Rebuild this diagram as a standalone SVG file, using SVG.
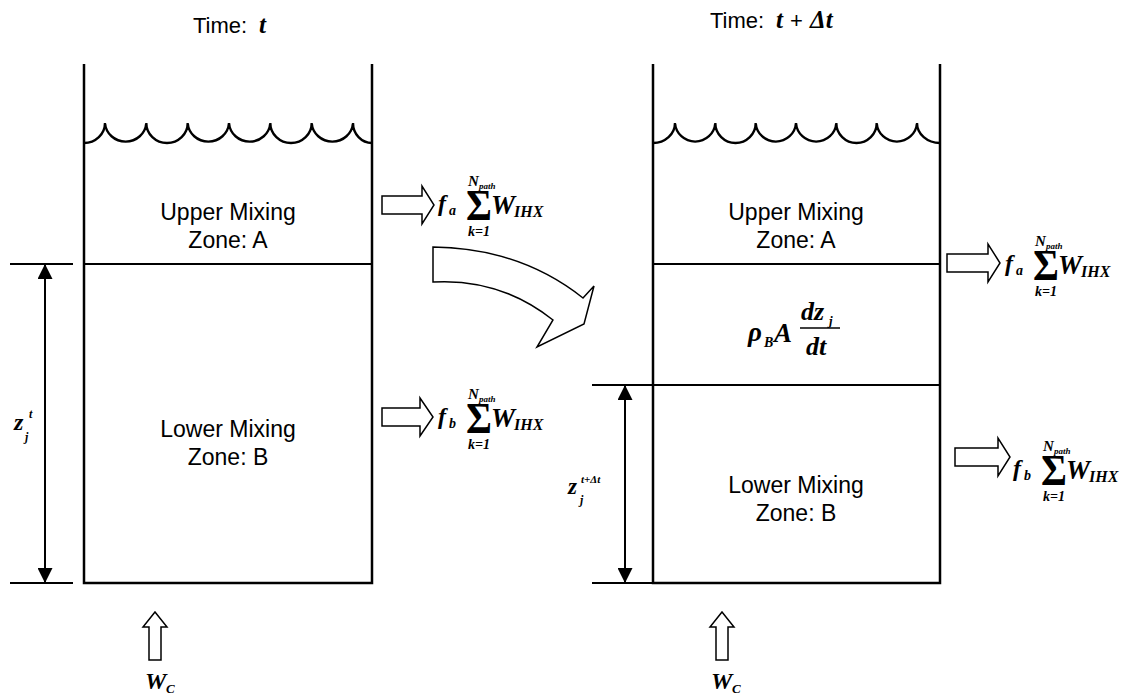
<svg xmlns="http://www.w3.org/2000/svg" width="1130" height="700" viewBox="0 0 1130 700">
<style>
.wall{fill:none;stroke:#000;stroke-width:2.5}
.ln{fill:none;stroke:#000;stroke-width:2}
.wave{fill:none;stroke:#000;stroke-width:2.4}
.blk{fill:#fff;stroke:#000;stroke-width:1.5;stroke-linejoin:miter}
.lbl{font-family:"Liberation Sans",Arial,sans-serif;font-size:23px;text-anchor:middle;fill:#000}
.ttl{font-family:"Liberation Sans",Arial,sans-serif;font-size:22px;fill:#000}
.m{font-family:"Liberation Serif","Times New Roman",serif;font-style:italic;font-weight:bold;fill:#000}
.sig{font-family:"Liberation Serif","Times New Roman",serif;font-weight:bold;font-size:44px;fill:#000}
</style>
<defs>
<marker id="ah" viewBox="0 0 10 10" refX="10" refY="5" markerUnits="userSpaceOnUse" markerWidth="15" markerHeight="15" orient="auto-start-reverse">
<path d="M0,0 L10,5 L0,10 Z" fill="#000"/>
</marker>
<g id="sumF">
<text class="sig" transform="translate(28,0) scale(0.9,1)">Σ</text>
<text class="m" x="30" y="-34" font-size="15">N</text>
<text class="m" x="41" y="-31" font-size="9">path</text>
<text class="m" x="41" y="16" font-size="14" text-anchor="middle">k=1</text>
<text class="m" x="53" y="-6" font-size="27">W</text>
<text class="m" x="76" y="-3" font-size="16">IHX</text>
</g>
</defs>

<!-- titles -->
<g id="title-left">
<text class="ttl" x="193" y="33">Time:</text>
<text class="m" x="259" y="33" font-size="25">t</text>
</g>
<g id="title-right">
<text class="ttl" x="710" y="28">Time:</text>
<text class="m" x="776" y="28" font-size="25">t</text>
<text class="ttl" x="790" y="28" font-size="24">+</text>
<text class="m" x="810" y="28" font-size="25" font-style="normal">Δ<tspan font-style="italic">t</tspan></text>
</g>

<!-- left tank -->
<g id="tank-left">
<path class="wall" d="M84,64 V583 H372 V64"/>
<path class="wave" d="M84,143 A21,20 0 0 0 105,123 A20.7,20 0 0 0 146.3,123 A20.7,20 0 0 0 187.7,123 A20.7,20 0 0 0 229,123 A20.7,20 0 0 0 270.3,123 A20.7,20 0 0 0 311.7,123 A20.7,20 0 0 0 353,123 A19,20 0 0 0 372,143"/>
</g>
<g id="zoneA-left">
<path class="ln" d="M84,264 H372"/>
<text class="lbl" x="228" y="220">Upper Mixing</text>
<text class="lbl" x="228" y="248">Zone: A</text>
</g>
<g id="zoneB-left">
<text class="lbl" x="228" y="437">Lower Mixing</text>
<text class="lbl" x="228" y="465">Zone: B</text>
</g>

<!-- right tank -->
<g id="tank-right">
<path class="wall" d="M653,64 V583 H940 V64"/>
<path class="wave" d="M653,143 A22,20 0 0 0 675,123 A20.2,20 0 0 0 715.3,123 A20.2,20 0 0 0 755.7,123 A20.2,20 0 0 0 796,123 A20.2,20 0 0 0 836.3,123 A20.2,20 0 0 0 876.7,123 A20.2,20 0 0 0 917,123 A23,20 0 0 0 940,143"/>
</g>
<g id="zoneA-right">
<path class="ln" d="M653,264 H940"/>
<text class="lbl" x="796" y="220">Upper Mixing</text>
<text class="lbl" x="796" y="248">Zone: A</text>
</g>
<g id="zoneMid-right">
<path class="ln" d="M592,385 H940"/>
<text class="m" x="748" y="341" font-size="27">ρ</text>
<text class="m" x="764" y="347" font-size="14">B</text>
<text class="m" x="774" y="342" font-size="27">A</text>
<text class="m" x="801" y="320" font-size="26">dz</text>
<text class="m" x="829" y="325" font-size="13">j</text>
<path d="M800,328 H840" stroke="#000" stroke-width="1.6"/>
<text class="m" x="806" y="355" font-size="26">dt</text>
</g>
<g id="zoneB-right">
<text class="lbl" x="796" y="493">Lower Mixing</text>
<text class="lbl" x="796" y="521">Zone: B</text>
</g>

<!-- connectors / dimension lines / flows -->
<g id="connectors">
<path class="ln" d="M10,264 H73 M10,583 H73"/>
<path class="ln" d="M45,264 V583" marker-start="url(#ah)" marker-end="url(#ah)"/>
<path class="ln" d="M592,583 H653"/>
<path class="ln" d="M625,385 V583" marker-start="url(#ah)" marker-end="url(#ah)"/>

<path class="blk" d="M382,196 H422 V186 L434,205 L422,224 V214 H382 Z"/>
<path class="blk" d="M382,408 H420 V398 L433,417 L420,436 V426 H382 Z"/>
<path class="blk" d="M947,254 H988 V244 L1000,263 L988,282 V272 H947 Z"/>
<path class="blk" d="M955,448 H998 V438 L1010,457 L998,476 V466 H955 Z"/>

<path class="blk" d="M433,247 Q520,248 583,298 L594,286 L584,324 L537,347 L553,320 Q500,278 433,282 Z"/>

<path class="blk" d="M155,612 L167,627 H161 V660 H149 V627 H143 Z"/>
<path class="blk" d="M722,612 L734,627 H728 V660 H716 V627 H710 Z"/>
</g>

<!-- formulas -->
<g id="flow-a-left">
<text class="m" x="438" y="211" font-size="24">f</text>
<text class="m" x="449" y="215" font-size="14">a</text>
<use href="#sumF" x="438" y="220"/>
</g>
<g id="flow-b-left">
<text class="m" x="438" y="424" font-size="24">f</text>
<text class="m" x="449" y="428" font-size="14">b</text>
<use href="#sumF" x="438" y="433"/>
</g>
<g id="flow-a-right">
<text class="m" x="1005" y="271" font-size="24">f</text>
<text class="m" x="1016" y="275" font-size="14">a</text>
<use href="#sumF" x="1005" y="280"/>
</g>
<g id="flow-b-right">
<text class="m" x="1013" y="476" font-size="24">f</text>
<text class="m" x="1024" y="480" font-size="14">b</text>
<use href="#sumF" x="1013" y="485"/>
</g>

<g id="labels-z">
<text class="m" x="14" y="430" font-size="24">z</text>
<text class="m" x="29" y="418" font-size="12">t</text>
<text class="m" x="25" y="441" font-size="12">j</text>
<text class="m" x="568" y="494" font-size="23">z</text>
<text class="m" x="581" y="483" font-size="11">t+Δt</text>
<text class="m" x="580" y="504" font-size="12">j</text>
</g>

<g id="wc-left">
<text class="m" x="145" y="689" font-size="24">W</text>
<text class="m" x="166" y="693" font-size="13">C</text>
</g>
<g id="wc-right">
<text class="m" x="711" y="689" font-size="24">W</text>
<text class="m" x="732" y="693" font-size="13">C</text>
</g>
</svg>
